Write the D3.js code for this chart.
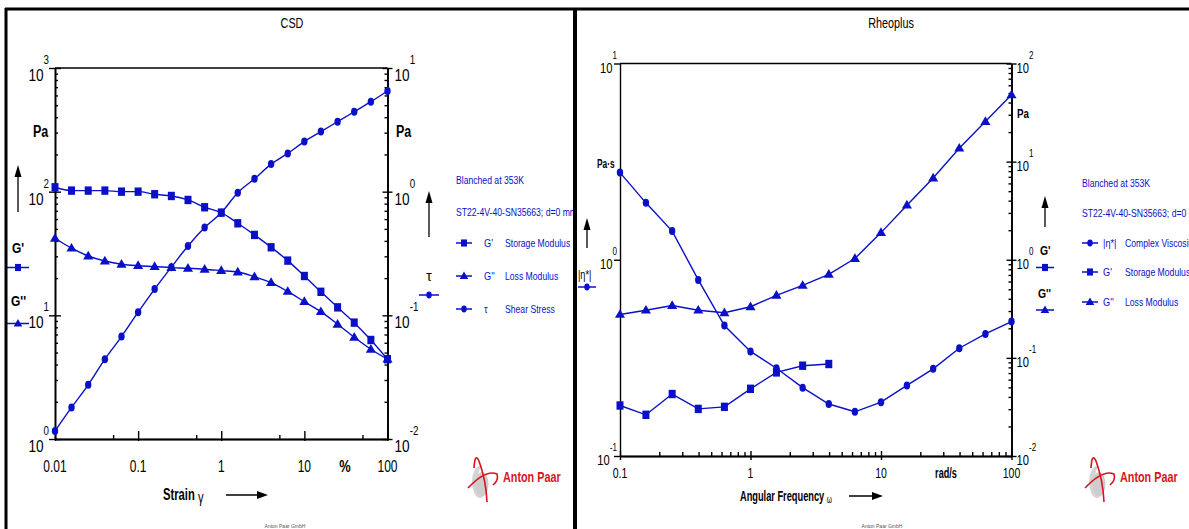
<!DOCTYPE html>
<html>
<head>
<meta charset="utf-8">
<script src="https://cdn.jsdelivr.net/npm/d3@7"></script>
<style>
body{margin:0;background:#fff}
svg{display:block;font-family:"Liberation Sans Narrow","Arial Narrow","Liberation Sans",sans-serif}
.axis path,.axis line{stroke:#000;stroke-width:1.4}
.lbl{font-weight:bold}
</style>
</head>
<body>
<div id="chart"></div>
<script>
// ---- CSD : amplitude sweep ----
var csdStrain  = [0.01,0.0158,0.0251,0.0398,0.0631,0.1,0.158,0.251,0.398,0.631,1,1.58,2.51,3.98,6.31,10,15.8,25.1,39.8,63.1,100];
var csdStorage = [108.5,102,102,102,100,100,95.3,92.3,85.7,74.8,67.7,55.5,44.7,35.5,27.7,20.8,15.5,11.6,8.73,6.32,4.42];
var csdLoss    = [42.0,34.9,30.2,27.5,25.9,25.2,24.8,24.3,24.0,23.6,23.0,22.4,20.5,18.4,15.6,12.9,10.7,8.47,6.65,5.32,4.42];
var csdStress  = [0.0116,0.0180,0.0274,0.0442,0.0673,0.106,0.163,0.245,0.364,0.512,0.676,0.981,1.27,1.67,2.04,2.54,3.06,3.68,4.43,5.34,6.52];
var csdXTicks  = [0.01,0.1,1,10,100];
var csdXLabels = ["0.01","0.1","1","10","100"];

// ---- Rheoplus : frequency sweep ----
var rheoFreq    = [0.1,0.158,0.251,0.398,0.631,1,1.58,2.51,3.98,6.31,10,15.8,25.1,39.8,63.1,100];
var rheoEta     = [2.78,1.95,1.40,0.789,0.462,0.341,0.280,0.223,0.184,0.168,0.188,0.229,0.278,0.354,0.419,0.484];
var rheoStorage = [0.0327,0.0263,0.0428,0.0302,0.0317,0.0484,0.0711,0.0832,0.0866];
var rheoLoss    = [0.277,0.306,0.342,0.306,0.288,0.332,0.433,0.547,0.709,1.03,1.89,3.60,6.80,13.7,25.6,48.0];
var rheoXTicks  = [0.1,1,10,100];
var rheoXLabels = ["0.1","1","10","100"];

var blue = "#0a10c8";
var svg = d3.select("#chart").append("svg").attr("width",1189).attr("height",529);

// the original uses a very condensed face; squeeze Liberation Sans horizontally
function squeeze(t, k){
  t.each(function(){
    var w = this.getComputedTextLength();
    d3.select(this).attr("textLength", w*k).attr("lengthAdjust","spacingAndGlyphs");
  });
  return t;
}

function decadeMinors(lo, hi, steps){
  var out = [];
  for (var d = lo; d < hi*0.999; d *= 10) steps.forEach(function(s){ out.push(d*s); });
  return out;
}

function powLabel(g, x, y, e, anchor, size, k){
  var t = g.append("text").attr("x",x).attr("y",y).attr("text-anchor",anchor)
    .attr("font-size",size).attr("fill","#000");
  t.append("tspan").text("10");
  t.append("tspan").attr("dy",-size*1.0).attr("font-size",size*0.72).text(e);
  squeeze(t, k);
}

function marker(g, type, cx, cy, s){
  s = s || 1;
  if (type=="square")
    g.append("rect").attr("x",cx-3.5*s).attr("y",cy-4.2*s).attr("width",7*s).attr("height",8.4*s).attr("fill",blue);
  else if (type=="circle")
    g.append("ellipse").attr("cx",cx).attr("cy",cy).attr("rx",3.2*s).attr("ry",4*s).attr("fill",blue);
  else
    g.append("path").attr("d",d3.symbol().type(d3.symbolTriangle).size(44*s*s)())
      .attr("transform","translate("+cx+","+(cy+0.5)+")").attr("fill",blue);
}

function legendSym(g, type, cx, cy, half){
  g.append("line").attr("x1",cx-half).attr("x2",cx+half).attr("y1",cy).attr("y2",cy)
    .attr("stroke",blue).attr("stroke-width",1.5);
  marker(g, type, cx, cy, 0.85);
}

function upArrow(g, x, y1, y2){
  g.append("line").attr("x1",x).attr("x2",x).attr("y1",y1).attr("y2",y2+8).attr("stroke","#000").attr("stroke-width",1.3);
  g.append("path").attr("d","M"+(x-3.5)+","+(y2+12)+"L"+x+","+y2+"L"+(x+3.5)+","+(y2+12)+"Z").attr("fill","#000");
}

function rightArrow(g, x1, x2, y){
  g.append("line").attr("x1",x1).attr("x2",x2-8).attr("y1",y).attr("y2",y).attr("stroke","#000").attr("stroke-width",1.5);
  g.append("path").attr("d","M"+(x2-11)+","+(y-4)+"L"+x2+","+y+"L"+(x2-11)+","+(y+4)+"Z").attr("fill","#000");
}

function logo(g, x, y){
  // little Anton Paar emblem + wordmark
  g.append("ellipse").attr("cx",x+10).attr("cy",y+30).attr("rx",8).attr("ry",16).attr("fill","#d4d4d4");
  g.append("ellipse").attr("cx",x+13).attr("cy",y+29).attr("rx",5.5).attr("ry",14).attr("fill","#fff");
  g.append("ellipse").attr("cx",x+12).attr("cy",y+32).attr("rx",6.5).attr("ry",12).attr("fill","#cdcdcd");
  g.append("path").attr("d","M"+(x+4)+","+(y+16)+" Q"+(x+5)+","+y+" "+(x+9)+","+(y+9)+" Q"+(x+16)+","+(y+28)+" "+(x+17)+","+(y+50))
    .attr("fill","none").attr("stroke","#d8141f").attr("stroke-width",1.6);
  g.append("path").attr("d","M"+(x-2)+","+(y+36)+" Q"+(x+16)+","+(y+17)+" "+(x+27)+","+(y+22)+" Q"+(x+29)+","+(y+28)+" "+(x+23)+","+(y+33))
    .attr("fill","none").attr("stroke","#d8141f").attr("stroke-width",1.6);
  squeeze(g.append("text").attr("x",x+33).attr("y",y+30).attr("font-size",15).attr("font-weight","bold")
    .attr("fill","#d8141f").text("Anton Paar"), 0.72);
}

function drawPanel(p){
  var g = svg.append("g");
  var x  = d3.scaleLog().domain(p.xDomain).range(p.xRange);
  var yL = d3.scaleLog().domain(p.yLDomain).range(p.yRange);
  var yR = d3.scaleLog().domain(p.yRDomain).range(p.yRange);
  var x0 = p.xRange[0], x1 = p.xRange[1], yb = p.yRange[0], yt = p.yRange[1];

  g.append("line").attr("x1",x0).attr("x2",x1).attr("y1",yt).attr("y2",yt).attr("stroke","#000").attr("stroke-width",1.5);

  // bottom axis: minors inside, majors crossing the line
  g.append("g").attr("class","axis").attr("transform","translate(0,"+yb+")")
    .call(d3.axisBottom(x).tickValues(p.xMinor).tickSizeInner(-p.xMinorLen).tickSizeOuter(0).tickFormat(""));
  g.append("g").attr("class","axis").attr("transform","translate(0,"+yb+")")
    .call(d3.axisBottom(x).tickValues(p.xTicks).tickSizeInner(-p.xMajUp).tickSizeOuter(0).tickFormat(""));
  g.append("g").attr("class","axis").attr("transform","translate(0,"+yb+")")
    .call(d3.axisBottom(x).tickValues(p.xTicks).tickSizeInner(p.xMajDown).tickSizeOuter(0).tickFormat(""));

  // left axis
  g.append("g").attr("class","axis").attr("transform","translate("+x0+",0)")
    .call(d3.axisLeft(yL).tickValues(p.yLMajor).tickSizeInner(6).tickSizeOuter(0).tickFormat(""));
  if (p.yLMinor) {
    g.append("g").attr("class","axis").attr("transform","translate("+x0+",0)")
      .call(d3.axisLeft(yL).tickValues(p.yLMinor).tickSizeInner(-3).tickSizeOuter(0).tickFormat(""));
    g.append("g").attr("class","axis").attr("transform","translate("+x0+",0)")
      .call(d3.axisLeft(yL).tickValues(p.yLMajor).tickSizeInner(-6).tickSizeOuter(0).tickFormat(""));
  }

  // right axis
  g.append("g").attr("class","axis").attr("transform","translate("+x1+",0)")
    .call(d3.axisRight(yR).tickValues(p.yRMinor).tickSizeInner(-3).tickSizeOuter(0).tickFormat(""));
  g.append("g").attr("class","axis").attr("transform","translate("+x1+",0)")
    .call(d3.axisRight(yR).tickValues(p.yRMajor).tickSizeInner(5).tickSizeOuter(0).tickFormat(""));
  g.append("g").attr("class","axis").attr("transform","translate("+x1+",0)")
    .call(d3.axisRight(yR).tickValues(p.yRMajor).tickSizeInner(-5).tickSizeOuter(0).tickFormat(""));

  // tick labels
  p.xTicks.forEach(function(v,i){
    squeeze(g.append("text").attr("x",x(v)).attr("y",p.xLabelY).attr("text-anchor","middle")
      .attr("font-size",p.tickFont).text(p.xLabels[i]), 0.75);
  });
  p.yLMajor.forEach(function(v){
    powLabel(g, x0-p.yLabelGap, yL(v)+p.tickDy, Math.round(Math.log10(v)), "end", p.yTickFont, 0.8);
  });
  p.yRMajor.forEach(function(v){
    powLabel(g, x1+p.yRLabelGap, yR(v)+p.tickDy, Math.round(Math.log10(v)), "start", p.yTickFont, 0.8);
  });

  // series
  p.series.forEach(function(s){
    var y = s.side=="L" ? yL : yR;
    var pts = s.values.map(function(v,i){ return [p.xs[i], v]; });
    var line = d3.line().x(function(d){return x(d[0]);}).y(function(d){return y(d[1]);}).curve(p.curve);
    g.append("path").attr("d",line(pts)).attr("fill","none").attr("stroke",blue).attr("stroke-width",1.4);
    pts.forEach(function(d){ marker(g, s.type, x(d[0]), y(d[1])); });
  });

  squeeze(g.append("text").attr("x",p.titleX).attr("y",28).attr("text-anchor","middle").attr("font-size",15).text(p.title), 0.72);
  return g;
}

function legend(g, x, y0, y1, rows){
  var lg = g.append("g").attr("fill",blue).attr("font-size",11.5);
  squeeze(lg.append("text").attr("x",x).attr("y",y0).text("Blanched at 353K"), 0.75);
  squeeze(lg.append("text").attr("x",x).attr("y",y1).text("ST22-4V-40-SN35663; d=0 mm"), 0.75);
  rows.forEach(function(r){
    legendSym(g, r[0], x+8, r[3], 8);
    squeeze(lg.append("text").attr("x",x+r[4]).attr("y",r[3]+4).text(r[1]), 0.8);
    squeeze(lg.append("text").attr("x",x+r[5]).attr("y",r[3]+4).text(r[2]), 0.75);
  });
}

// ---------- left panel ----------
var g1 = drawPanel({
  title:"CSD", titleX:292,
  xDomain:[0.01,100], xRange:[55,387.5], yLDomain:[1,1000], yRDomain:[0.01,10], yRange:[439,68],
  xTicks:csdXTicks, xLabels:csdXLabels, xMinor:[0.05,0.5,5,50], xMinorLen:4, xMajUp:8, xMajDown:2,
  yLMajor:[1,10,100,1000], yLMinor:decadeMinors(1,1000,[2,3,4,5,6,7,8,9]),
  yRMajor:[0.01,0.1,1,10], yRMinor:decadeMinors(0.01,10,[2,3,4,5,6,7,8,9]),
  xLabelY:472, tickFont:16, yTickFont:17, tickDy:13, yLabelGap:6, yRLabelGap:7,
  xs:csdStrain, curve:d3.curveMonotoneX,
  series:[{side:"L",type:"square",values:csdStorage},
          {side:"L",type:"triangle",values:csdLoss},
          {side:"R",type:"circle",values:csdStress}]
});
squeeze(g1.append("text").attr("class","lbl").attr("x",33).attr("y",137).attr("font-size",16).text("Pa"), 0.78);
upArrow(g1, 18, 212, 165);
squeeze(g1.append("text").attr("class","lbl").attr("x",12).attr("y",253).attr("font-size",15).text("G'"), 0.8);
legendSym(g1,"square",18,267.5,11);
squeeze(g1.append("text").attr("class","lbl").attr("x",11).attr("y",306).attr("font-size",15).text("G''"), 0.8);
legendSym(g1,"triangle",18,323.5,11);
squeeze(g1.append("text").attr("class","lbl").attr("x",396).attr("y",137).attr("font-size",16).text("Pa"), 0.78);
upArrow(g1, 429, 237, 191);
g1.append("text").attr("x",429).attr("y",281).attr("text-anchor","middle").attr("font-size",14).text("τ");
legendSym(g1,"circle",429,295,10);
var st = g1.append("text").attr("class","lbl").attr("x",163).attr("y",500).attr("font-size",17).text("Strain ");
st.append("tspan").attr("font-weight","normal").attr("dy",3).text("γ");
squeeze(st, 0.66);
rightArrow(g1, 226, 268, 495);
squeeze(g1.append("text").attr("class","lbl").attr("x",345).attr("y",472).attr("text-anchor","middle").attr("font-size",16).text("%"), 0.8);
legend(g1, 456, 184, 216, [["square","G'","Storage Modulus",243,28,49],
                           ["triangle","G''","Loss Modulus",276,28,49],
                           ["circle","τ","Shear Stress",309,28,49]]);
logo(g1, 470, 452);
g1.append("text").attr("x",285).attr("y",528).attr("text-anchor","middle").attr("font-size",5).attr("fill","#555").text("Anton Paar GmbH");

// ---------- right panel ----------
var g2 = drawPanel({
  title:"Rheoplus", titleX:891,
  xDomain:[0.1,100], xRange:[620,1011.5], yLDomain:[0.1,10], yRDomain:[0.01,100], yRange:[456,63.5],
  xTicks:rheoXTicks, xLabels:rheoXLabels, xMinor:decadeMinors(0.1,100,[2,3,4,5,6,7,8,9]), xMinorLen:4, xMajUp:5, xMajDown:4,
  yLMajor:[0.1,1,10], yLMinor:null,
  yRMajor:[0.01,0.1,1,10,100], yRMinor:decadeMinors(0.01,100,[2,3,4,5,6,7,8,9]),
  xLabelY:478, tickFont:14, yTickFont:14, tickDy:9, yLabelGap:3, yRLabelGap:5,
  xs:rheoFreq, curve:d3.curveLinear,
  series:[{side:"L",type:"circle",values:rheoEta},
          {side:"R",type:"square",values:rheoStorage},
          {side:"R",type:"triangle",values:rheoLoss}]
});
squeeze(g2.append("text").attr("class","lbl").attr("x",597).attr("y",168).attr("font-size",13).text("Pa·s"), 0.64);
upArrow(g2, 587, 248, 218);
squeeze(g2.append("text").attr("x",578).attr("y",279).attr("font-size",13).text("|η*|"), 0.7);
legendSym(g2,"circle",587,287,9);
squeeze(g2.append("text").attr("class","lbl").attr("x",1017).attr("y",118).attr("font-size",13).text("Pa"), 0.75);
upArrow(g2, 1045, 227, 196);
squeeze(g2.append("text").attr("class","lbl").attr("x",1040).attr("y",255).attr("font-size",13).text("G'"), 0.8);
legendSym(g2,"square",1045,267.5,9);
squeeze(g2.append("text").attr("class","lbl").attr("x",1038).attr("y",298).attr("font-size",13).text("G''"), 0.8);
legendSym(g2,"triangle",1045,310,9);
var af = g2.append("text").attr("class","lbl").attr("x",740).attr("y",501).attr("font-size",14).text("Angular Frequency ");
af.append("tspan").attr("font-weight","normal").attr("font-size",10).attr("dy",2).text("ω");
squeeze(af, 0.66);
rightArrow(g2, 849, 883, 496);
squeeze(g2.append("text").attr("class","lbl").attr("x",946).attr("y",478).attr("text-anchor","middle").attr("font-size",14).text("rad/s"), 0.65);
legend(g2, 1082, 187, 217, [["circle","|η*|","Complex Viscosity",243,21,43],
                            ["square","G'","Storage Modulus",272,21,43],
                            ["triangle","G''","Loss Modulus",302,21,43]]);
logo(g2, 1087, 452);
g2.append("text").attr("x",882).attr("y",528).attr("text-anchor","middle").attr("font-size",5).attr("fill","#555").text("Anton Paar GmbH");

// frame lines
svg.append("line").attr("x1",5).attr("x2",1189).attr("y1",9).attr("y2",9).attr("stroke","#000").attr("stroke-width",3);
svg.append("line").attr("x1",6).attr("x2",6).attr("y1",8).attr("y2",529).attr("stroke","#000").attr("stroke-width",3);
svg.append("line").attr("x1",575).attr("x2",575).attr("y1",8).attr("y2",529).attr("stroke","#000").attr("stroke-width",4);
</script>
</body>
</html>
